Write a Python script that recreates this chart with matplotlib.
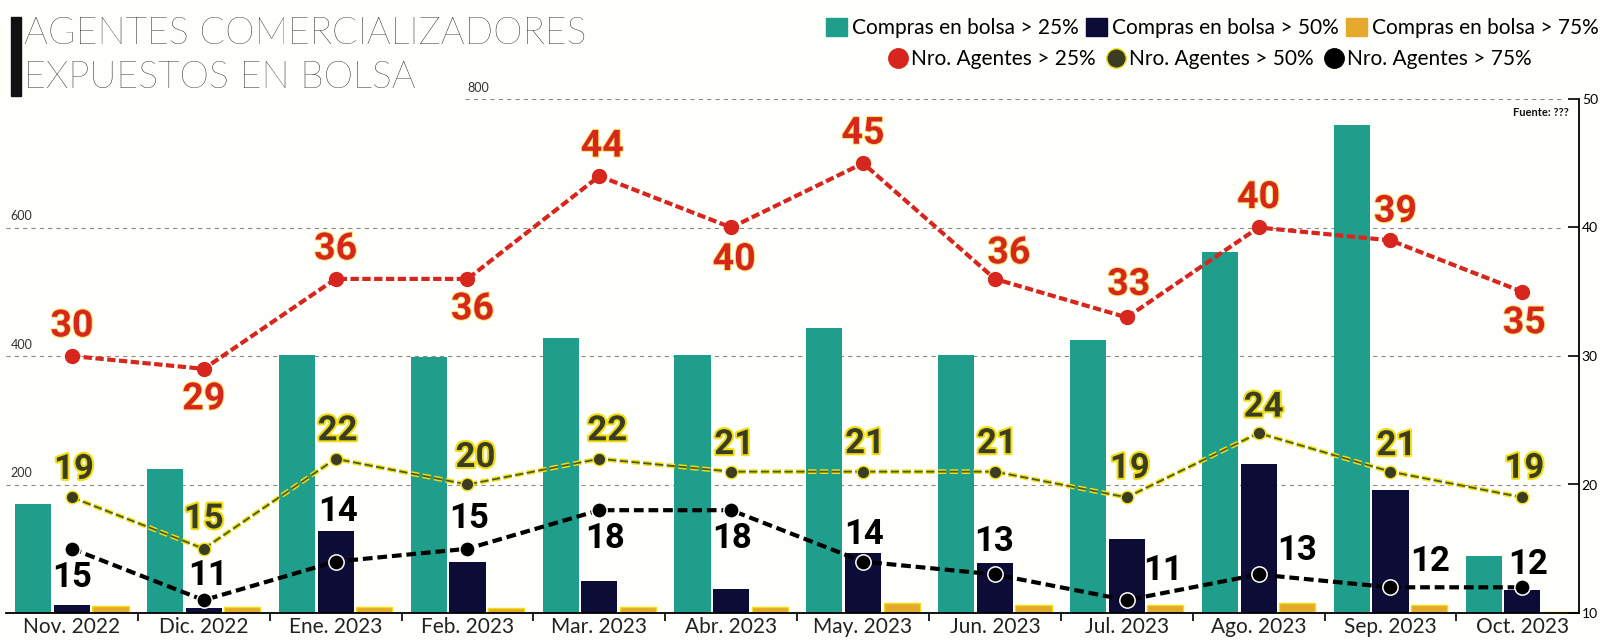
import numpy as np
import matplotlib
matplotlib.use("Agg")
import matplotlib.pyplot as plt
import matplotlib.patheffects as pe
from matplotlib import font_manager
from matplotlib.patches import Patch
from matplotlib.lines import Line2D

# ---- data ----
months = ["Nov. 2022", "Dic. 2022", "Ene. 2023", "Feb. 2023", "Mar. 2023", "Abr. 2023",
          "May. 2023", "Jun. 2023", "Jul. 2023", "Ago. 2023", "Sep. 2023", "Oct. 2023"]
compras_25 = [170, 224, 401, 398, 428, 401, 444, 401, 425, 562, 760, 88]
compras_50 = [12, 8, 127, 80, 50, 37, 93, 78, 115, 232, 191, 36]
compras_75 = [11, 9, 10, 8, 10, 9, 16, 12, 12, 15, 12, 2]
agentes_25 = [30, 29, 36, 36, 44, 40, 45, 36, 33, 40, 39, 35]
agentes_50 = [19, 15, 22, 20, 22, 21, 21, 21, 19, 24, 21, 19]
agentes_75 = [15, 11, 14, 15, 18, 18, 14, 13, 11, 13, 12, 12]
left_ticks = [200, 400, 600, 800]
right_ticks = [10, 20, 30, 40, 50]

# label offsets in pixels (dx, dy)
off_25 = [(0, 30), (0, -30), (0, 30), (5, -30), (3, 30), (3, -32),
          (0, 30), (14, 26), (2, 33), (0, 30), (5, 29), (2, -31)]
off_50 = [(2, 28), (0, 30), (2, 28), (8, 27), (8, 28), (3, 27),
          (2, 28), (2, 28), (3, 29), (5, 26), (6, 26), (2, 29)]
off_75 = [(0, -29), (4, 25), (2, 50), (2, 30), (6, -28), (1, -28),
          (1, 27), (-1, 33), (36, 30), (39, 24), (40, 26), (6, 23)]

C_TEAL = "#1f9f8b"
C_NAVY = "#0c0c36"
C_GOLD = "#e4aa2c"
C_RED = "#d6261d"
C_OLIVE = "#3b3d22"
C_YEL = "#f1df14"

avail = {f.name for f in font_manager.fontManager.ttflist}
txt_font = "Lato" if "Lato" in avail else "DejaVu Sans"
num_font = "Roboto" if "Roboto" in avail else "DejaVu Sans"

plt.rcParams["font.family"] = [txt_font, "DejaVu Sans"]
plt.rcParams["lines.scale_dashes"] = False

W, H = 1603, 640
fig = plt.figure(figsize=(W / 100, H / 100), dpi=100, facecolor="#fefefb")
ax = fig.add_axes([6 / W, 27 / H, (1579 - 6) / W, (613 - 99) / H])
ax.set_facecolor("none")
ax.set_xlim(-0.5, 11.43)
ax.set_ylim(0, 800)

x = np.arange(len(months))
bw, bo = 0.274, 0.293
ax.bar(x - bo, compras_25, bw, color=C_TEAL, zorder=2)
ax.bar(x, compras_50, bw, color=C_NAVY, zorder=2)
ax.bar(x + bo, compras_75, bw, color=C_GOLD, edgecolor=C_YEL, linewidth=1, zorder=2)

# gridlines + left labels
for v in left_ticks:
    x0 = 0.292 if v == 800 else 0.0
    ax.axhline(v, xmin=x0, xmax=0.99, color="#8a8a80", lw=0.8,
               linestyle=(0, (3, 3)), zorder=0.5)
    ax.text(0.293 if v == 800 else 0.003, v + 8, str(v), transform=ax.get_yaxis_transform(),
            fontsize=9, color="#333333", ha="left", va="bottom")

for s in ["left", "top", "right"]:
    ax.spines[s].set_visible(False)
ax.spines["bottom"].set_linewidth(1.3)
ax.set_yticks([])
ax.set_xticks(x)
ax.set_xticklabels(months, fontsize=15, color="#222222")
ax.tick_params(axis="x", which="major", length=0, pad=3)
ax.set_xticks(x[:-1] + 0.5, minor=True)
ax.tick_params(axis="x", which="minor", length=6, width=1.2, direction="out")

ax2 = ax.twinx()
ax2.set_ylim(10, 50)
for s in ["left", "top", "bottom"]:
    ax2.spines[s].set_visible(False)
ax2.spines["right"].set_linewidth(1.3)
ax2.set_yticks(right_ticks)
ax2.tick_params(axis="y", direction="in", length=8, width=1.2, labelsize=10, pad=2)

# lines
ax2.plot(x, agentes_25, color=C_RED, lw=3, dashes=(6, 2.5), marker="o", ms=10,
         mfc=C_RED, mec=C_RED, zorder=5)
ax2.plot(x, agentes_50, color=C_YEL, lw=3.4, dashes=(6, 2.5), zorder=5)
ax2.plot(x, agentes_50, color="#4d5a20", lw=1.3, dashes=(6, 2.5), marker="o", ms=9,
         mfc=C_OLIVE, mec=C_YEL, mew=1, zorder=5)
ax2.plot(x, agentes_75, color="black", lw=3, dashes=(7, 3.5), marker="o", ms=11,
         mfc="black", mec="white", mew=1.1, zorder=6)

def labels(vals, offs, color, size, stroke=None):
    for xi, v, (dx, dy) in zip(x, vals, offs):
        t = ax2.annotate(str(v), (xi, v), xytext=(dx, dy), textcoords="offset pixels",
                         ha="center", va="center", fontsize=size, fontweight="bold",
                         color=color, family=[num_font, "DejaVu Sans"], zorder=7)
        if stroke:
            t.set_path_effects([pe.withStroke(linewidth=stroke[1], foreground=stroke[0])])

labels(agentes_25, off_25, C_RED, 27, ("#f6e46a", 1.5))
labels(agentes_50, off_50, C_OLIVE, 25, (C_YEL, 3))
labels(agentes_75, off_75, "black", 25)

# title
fig.patches.append(plt.Rectangle((11 / W, 1 - 96 / H), 10 / W, 79 / H,
                                 transform=fig.transFigure, color="#111111"))
fig.text(24 / W, 1 - 34 / H, "AGENTES COMERCIALIZADORES", fontsize=27, fontweight="light",
         color="black", va="center", ha="left")
fig.text(24 / W, 1 - 78 / H, "EXPUESTOS EN BOLSA", fontsize=27, fontweight="light",
         color="black", va="center", ha="left")

# legends
h1 = [Patch(color=C_TEAL), Patch(color=C_NAVY), Patch(color=C_GOLD)]
l1 = ["Compras en bolsa > 25%", "Compras en bolsa > 50%", "Compras en bolsa > 75%"]
fig.legend(h1, l1, ncol=3, loc="center right", bbox_to_anchor=(1599 / W, 1 - 28 / H),
           frameon=False, fontsize=15, handlelength=1.0, handleheight=1.0,
           handletextpad=0.25, columnspacing=0.35, borderpad=0, borderaxespad=0)
h2 = [Line2D([], [], ls="", marker="o", ms=14, mfc=C_RED, mec=C_RED),
      Line2D([], [], ls="", marker="o", ms=14, mfc=C_OLIVE, mec=C_YEL),
      Line2D([], [], ls="", marker="o", ms=14, mfc="black", mec="black")]
l2 = ["Nro. Agentes > 25%", "Nro. Agentes > 50%", "Nro. Agentes > 75%"]
fig.legend(h2, l2, ncol=3, loc="center", bbox_to_anchor=(1210 / W, 1 - 59 / H),
           frameon=False, fontsize=15, handlelength=0.9, handletextpad=0.2,
           columnspacing=0.5, borderpad=0, borderaxespad=0)

fig.text(1569 / W, 1 - 112 / H, "Fuente: ???", fontsize=8, fontweight="bold",
         ha="right", va="center", color="#111111")

fig.savefig("out.png", dpi=100, facecolor=fig.get_facecolor())
